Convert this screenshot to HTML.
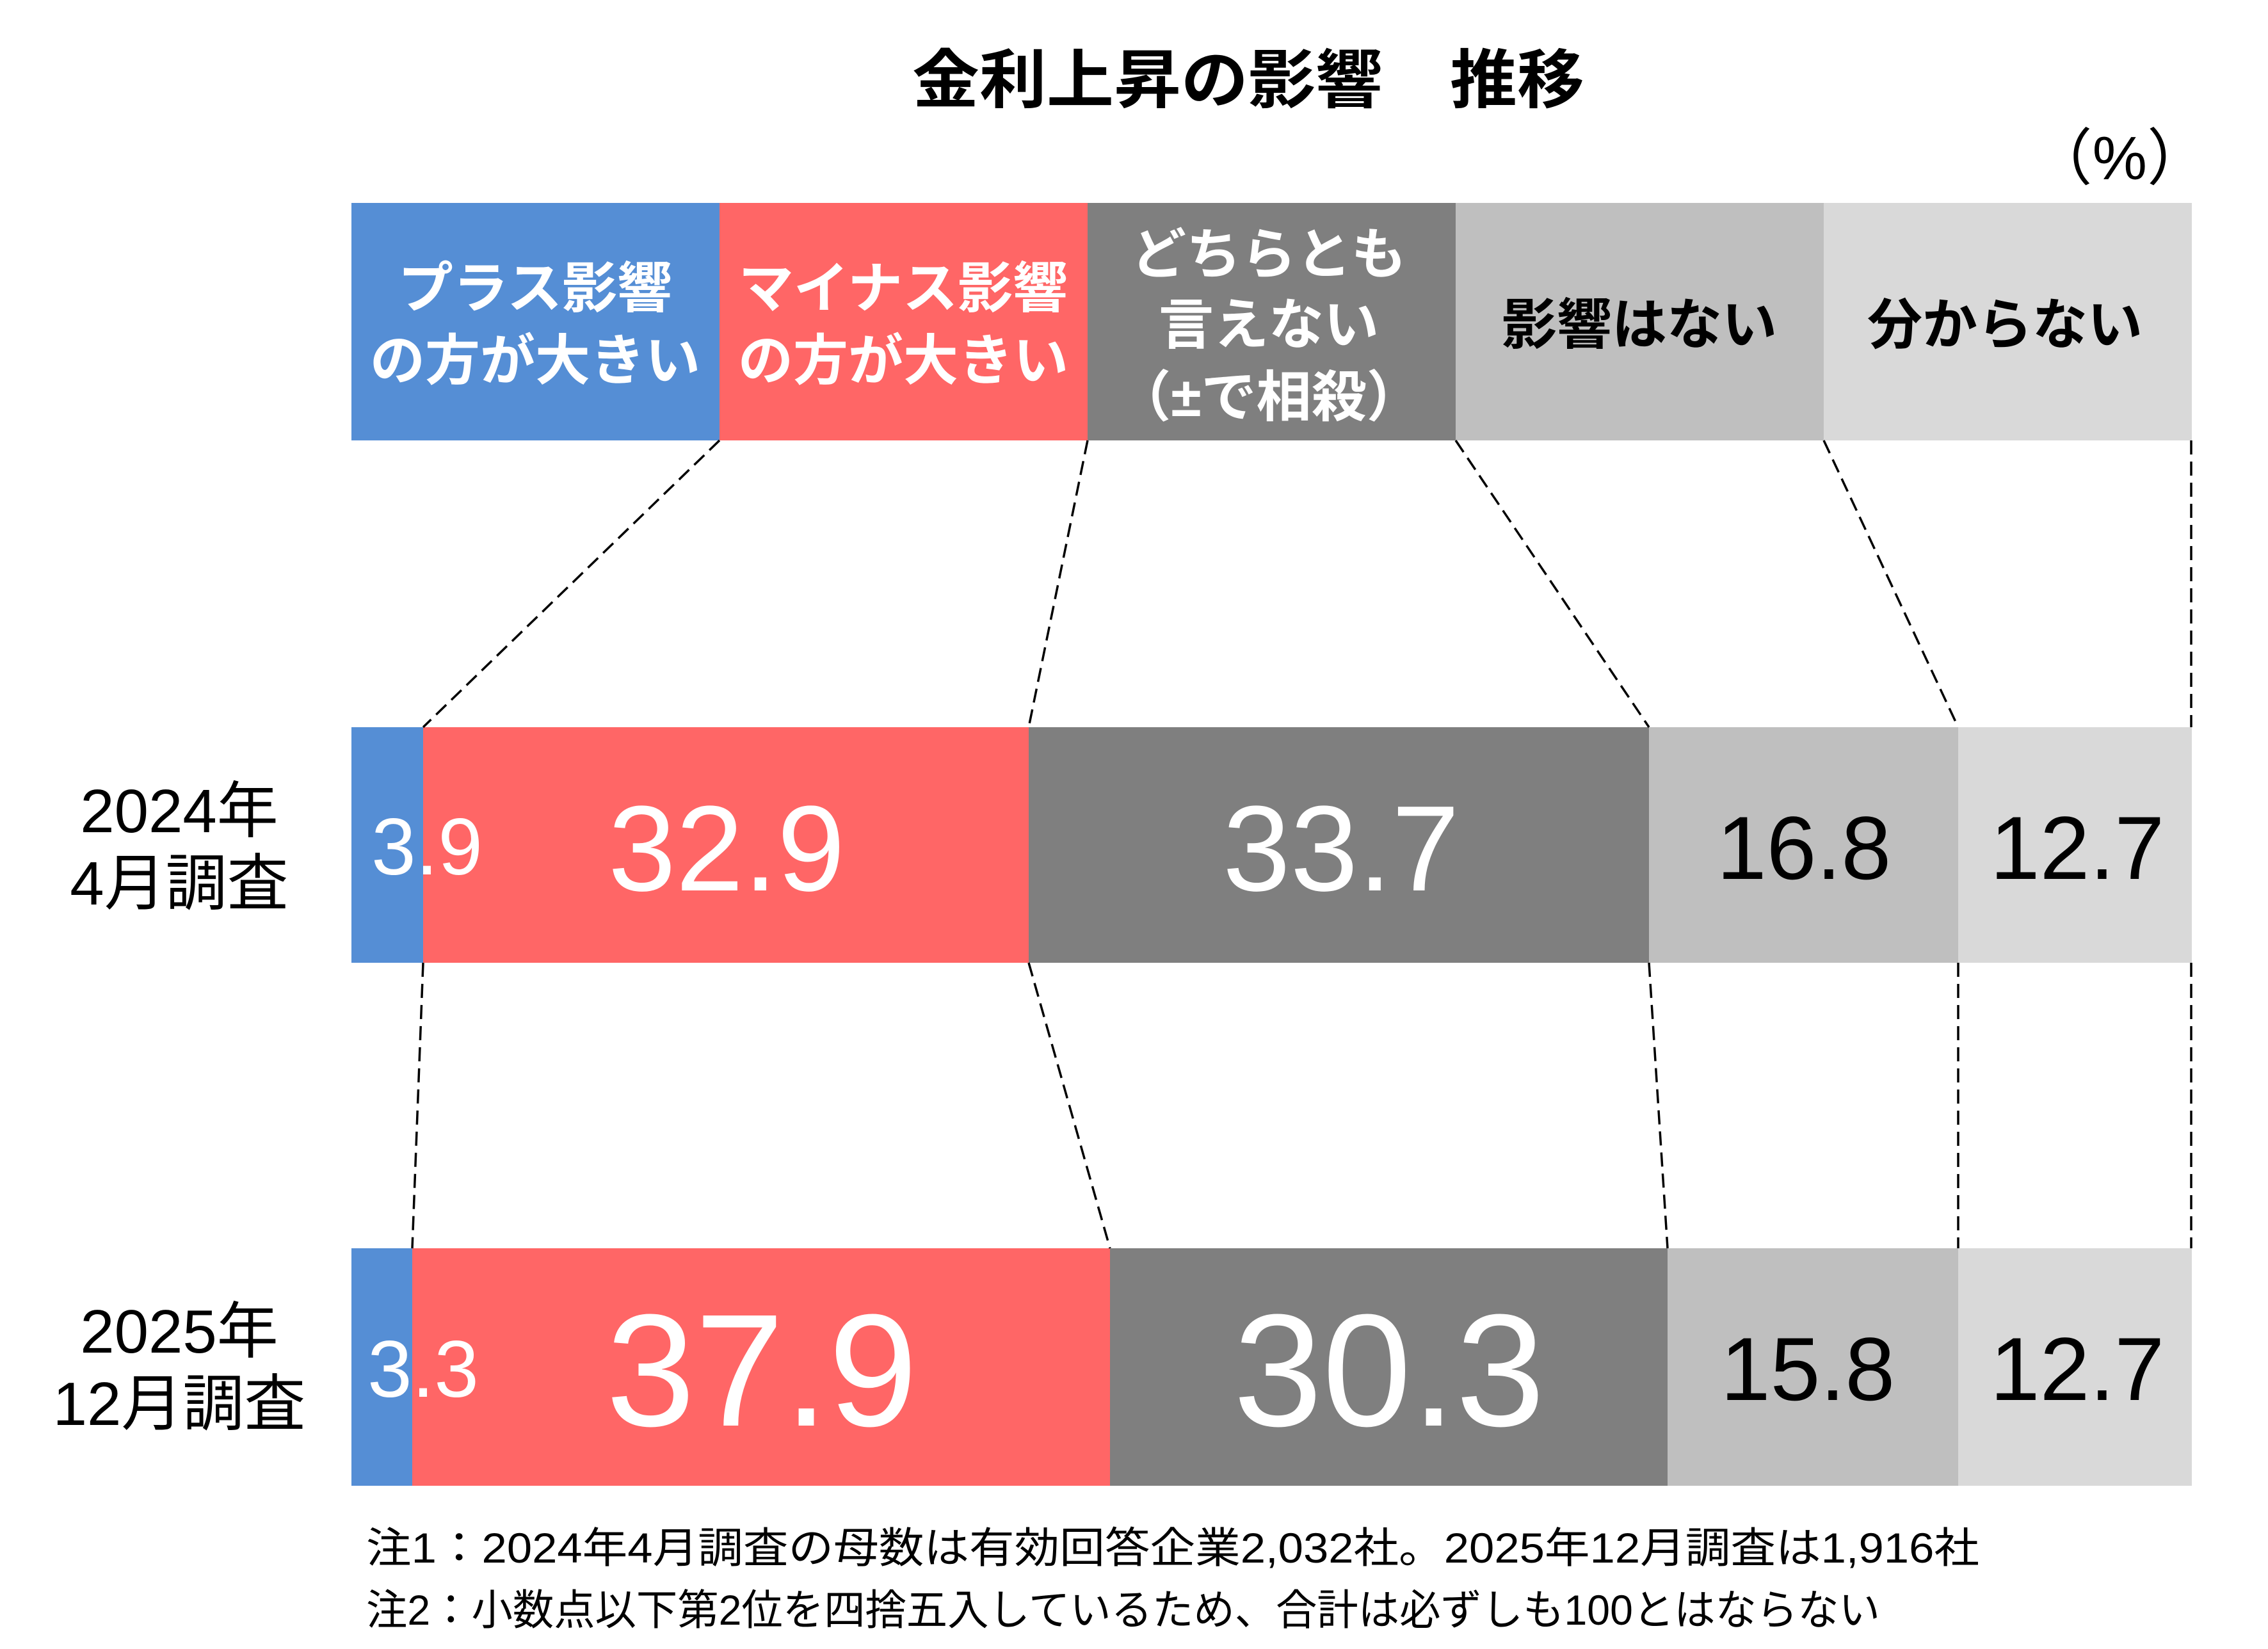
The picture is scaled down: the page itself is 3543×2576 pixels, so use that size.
<!DOCTYPE html>
<html><head><meta charset="utf-8"><style>
html,body{margin:0;padding:0;background:#fff;}
svg{display:block;}
text{font-family:"Liberation Sans","Noto Sans CJK JP",sans-serif;}
</style></head><body>
<svg width="3543" height="2576" viewBox="0 0 3543 2576" xmlns="http://www.w3.org/2000/svg">
<rect width="3543" height="2576" fill="#fff"/>
<text x="1950" y="160" font-size="100" font-weight="bold" text-anchor="middle" textLength="1050" lengthAdjust="spacingAndGlyphs">金利上昇の影響　推移</text>
<text x="3450" y="280" font-size="96" text-anchor="end">（%）</text>

<!-- header -->
<rect x="549" y="317" width="575" height="371" fill="#558ED5"/>
<rect x="1124" y="317" width="575" height="371" fill="#FF6666"/>
<rect x="1699" y="317" width="575" height="371" fill="#7F7F7F"/>
<rect x="2274" y="317" width="575" height="371" fill="#BFBFBF"/>
<rect x="2849" y="317" width="575" height="371" fill="#D9D9D9"/>
<g font-size="86" font-weight="bold" text-anchor="middle" fill="#fff">
<text x="836" y="480">プラス影響</text>
<text x="836" y="593">の方が大きい</text>
<text x="1411" y="480">マイナス影響</text>
<text x="1411" y="593">の方が大きい</text>
<text x="1982" y="427">どちらとも</text>
<text x="1982" y="537">言えない</text>
<text x="1982" y="650">（±で相殺）</text>
</g>
<g font-size="86" font-weight="bold" text-anchor="middle" fill="#000">
<text x="2561" y="537">影響はない</text>
<text x="3132" y="537">分からない</text>
</g>

<!-- bar 1 -->
<rect x="549" y="1136" width="112" height="368" fill="#558ED5"/>
<rect x="661" y="1136" width="946" height="368" fill="#FF6666"/>
<rect x="1607" y="1136" width="969" height="368" fill="#7F7F7F"/>
<rect x="2576" y="1136" width="483" height="368" fill="#BFBFBF"/>
<rect x="3059" y="1136" width="365" height="368" fill="#D9D9D9"/>
<!-- bar 2 -->
<rect x="549" y="1950" width="95" height="371" fill="#558ED5"/>
<rect x="644" y="1950" width="1090" height="371" fill="#FF6666"/>
<rect x="1734" y="1950" width="871" height="371" fill="#7F7F7F"/>
<rect x="2605" y="1950" width="454" height="371" fill="#BFBFBF"/>
<rect x="3059" y="1950" width="365" height="371" fill="#D9D9D9"/>

<g stroke="#000" stroke-width="3.5" stroke-dasharray="22,11" fill="none">
<line x1="1124" y1="688" x2="661" y2="1136"/>
<line x1="1699" y1="688" x2="1607" y2="1136"/>
<line x1="2274" y1="688" x2="2576" y2="1136"/>
<line x1="2849" y1="688" x2="3059" y2="1136"/>
<line x1="3423" y1="688" x2="3423" y2="1136"/>
<line x1="661" y1="1504" x2="644" y2="1950"/>
<line x1="1607" y1="1504" x2="1734" y2="1950"/>
<line x1="2576" y1="1504" x2="2605" y2="1950"/>
<line x1="3059" y1="1504" x2="3059" y2="1950"/>
<line x1="3423" y1="1504" x2="3423" y2="1950"/>
</g>

<!-- values -->
<g fill="#fff" text-anchor="middle">
<text x="667" y="1366" font-size="125">3.9</text>
<text x="1135" y="1391" font-size="190">32.9</text>
<text x="2095" y="1391" font-size="190">33.7</text>
<text x="661" y="2182" font-size="125">3.3</text>
<text x="1190" y="2227" font-size="250">37.9</text>
<text x="2170" y="2227" font-size="250">30.3</text>
</g>
<g fill="#000" text-anchor="middle" font-size="140">
<text x="2818" y="1373">16.8</text>
<text x="3245" y="1373">12.7</text>
<text x="2824" y="2187">15.8</text>
<text x="3245" y="2187">12.7</text>
</g>

<!-- row labels -->
<g fill="#000" text-anchor="middle" font-size="96">
<text x="280" y="1300">2024年</text>
<text x="280" y="1413">4月調査</text>
<text x="280" y="2113">2025年</text>
<text x="280" y="2226">12月調査</text>
</g>

<!-- notes -->
<g fill="#000" font-size="66">
<text x="572" y="2441" textLength="2520" lengthAdjust="spacingAndGlyphs">注1：2024年4月調査の母数は有効回答企業2,032社。2025年12月調査は1,916社</text>
<text x="572" y="2538" textLength="2365" lengthAdjust="spacingAndGlyphs">注2：小数点以下第2位を四捨五入しているため、合計は必ずしも100とはならない</text>
</g>
</svg>
</body></html>
